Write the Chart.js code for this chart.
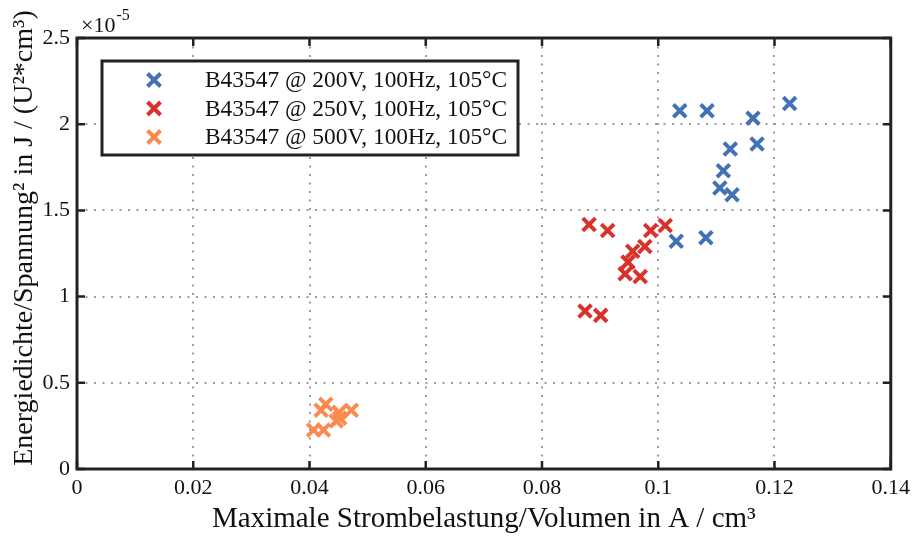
<!DOCTYPE html>
<html>
<head>
<meta charset="utf-8">
<script src="https://cdn.jsdelivr.net/npm/chart.js@4.4.1/dist/chart.umd.min.js"></script>
<style>
  html, body { margin: 0; padding: 0; background: #fff; }
  #wrap { width: 916px; height: 538px; }
</style>
</head>
<body>
<div id="wrap"><canvas id="chart"></canvas></div>
<script>
// Messreihen B43547 (y-Werte in Einheiten von 1e-5)
const seriesLabels = [
  'B43547 @ 200V, 100Hz, 105°C',
  'B43547 @ 250V, 100Hz, 105°C',
  'B43547 @ 500V, 100Hz, 105°C'
];
const seriesColors = ['#4371B6', '#D8322A', '#FA8A50'];

const x200 = [0.1037, 0.1084, 0.1163, 0.1226, 0.1124, 0.1170, 0.1112, 0.1106, 0.1127, 0.1031, 0.1082];
const y200 = [2.078, 2.078, 2.035, 2.120, 1.856, 1.885, 1.730, 1.630, 1.591, 1.321, 1.341];

const x250 = [0.0881, 0.0913, 0.0987, 0.1012, 0.0977, 0.0956, 0.0948, 0.0943, 0.0969, 0.0874, 0.0901];
const y250 = [1.418, 1.383, 1.383, 1.412, 1.291, 1.263, 1.200, 1.132, 1.117, 0.916, 0.891];

const x500 = [0.0428, 0.0420, 0.0451, 0.0472, 0.0452, 0.0446, 0.0407, 0.0424];
const y500 = [0.376, 0.341, 0.329, 0.341, 0.295, 0.278, 0.226, 0.226];

const xTicks = [0, 0.02, 0.04, 0.06, 0.08, 0.1, 0.12, 0.14];
const yTicks = [0, 0.5, 1, 1.5, 2, 2.5];
const yExponent = '-5';

const xTitle = 'Maximale Strombelastung/Volumen in A / cm³';
const yTitle = 'Energiedichte/Spannung² in J / (U²*cm³)';

const FONT = "'Liberation Serif', 'DejaVu Serif', serif";

function toPoints(xs, ys) {
  return xs.map((x, i) => ({ x: x, y: ys[i] }));
}

const datasets = [
  [x200, y200], [x250, y250], [x500, y500]
].map(([xs, ys], i) => ({
  label: seriesLabels[i],
  data: toPoints(xs, ys),
  pointStyle: 'crossRot',
  pointRadius: 9,
  pointBorderWidth: 4,
  borderColor: seriesColors[i],
  backgroundColor: seriesColors[i],
  showLine: false
}));

// Rahmen, nach innen zeigende Ticks, Exponent und y-Achsentitel
const framePlugin = {
  id: 'frame',
  afterDatasetsDraw(chart) {
    const { ctx, chartArea: a, scales } = chart;
    const len = 8;
    ctx.save();
    ctx.strokeStyle = '#222';
    ctx.lineWidth = 2.5;
    ctx.beginPath();
    scales.x.ticks.forEach(t => {
      const px = scales.x.getPixelForValue(t.value);
      ctx.moveTo(px, a.bottom); ctx.lineTo(px, a.bottom - len);
      ctx.moveTo(px, a.top); ctx.lineTo(px, a.top + len);
    });
    scales.y.ticks.forEach(t => {
      const py = scales.y.getPixelForValue(t.value);
      ctx.moveTo(a.left, py); ctx.lineTo(a.left + len, py);
      ctx.moveTo(a.right, py); ctx.lineTo(a.right - len, py);
    });
    ctx.stroke();
    ctx.lineWidth = 3;
    ctx.strokeRect(a.left, a.top, a.right - a.left, a.bottom - a.top);

    // ×10^-5 über der y-Achse
    ctx.fillStyle = '#111';
    ctx.textBaseline = 'alphabetic';
    ctx.textAlign = 'left';
    ctx.font = '22px ' + FONT;
    const base = '×10';
    ctx.fillText(base, a.left + 4, a.top - 6);
    const w = ctx.measureText(base).width;
    ctx.font = '16px ' + FONT;
    ctx.fillText(yExponent, a.left + 5 + w, a.top - 18);

    // y-Achsentitel, gedreht
    ctx.save();
    ctx.translate(32, 238);
    ctx.rotate(-Math.PI / 2);
    ctx.textAlign = 'center';
    ctx.font = '28px ' + FONT;
    ctx.fillText(yTitle, 0, 0);
    ctx.restore();
    ctx.restore();
  }
};

// Legende mit Rahmen oben links im Diagramm
const legendPlugin = {
  id: 'boxLegend',
  afterDraw(chart) {
    const { ctx } = chart;
    const box = { x: 102, y: 61, w: 416, h: 94 };
    const rowH = 28.5;
    ctx.save();
    ctx.fillStyle = '#fff';
    ctx.fillRect(box.x, box.y, box.w, box.h);
    ctx.strokeStyle = '#222';
    ctx.lineWidth = 3;
    ctx.strokeRect(box.x, box.y, box.w, box.h);
    ctx.font = '23.4px ' + FONT;
    ctx.textBaseline = 'middle';
    ctx.textAlign = 'left';
    chart.data.datasets.forEach((ds, i) => {
      const cy = box.y + 19 + i * rowH;
      const cx = box.x + 52;
      const r = 6.5;
      ctx.strokeStyle = ds.borderColor;
      ctx.lineWidth = 4;
      ctx.beginPath();
      ctx.moveTo(cx - r, cy - r); ctx.lineTo(cx + r, cy + r);
      ctx.moveTo(cx - r, cy + r); ctx.lineTo(cx + r, cy - r);
      ctx.stroke();
      ctx.fillStyle = '#111';
      ctx.fillText(ds.label, box.x + 103, cy + 1);
    });
    ctx.restore();
  }
};

new Chart(document.getElementById('chart'), {
  type: 'scatter',
  data: { datasets: datasets },
  options: {
    responsive: true,
    maintainAspectRatio: false,
    animation: false,
    layout: { padding: { top: 38, right: 24, left: 0, bottom: 0 } },
    plugins: {
      legend: { display: false },
      tooltip: { enabled: false }
    },
    scales: {
      x: {
        type: 'linear',
        min: 0,
        max: 0.14,
        afterBuildTicks: s => { s.ticks = xTicks.map(v => ({ value: v })); },
        afterFit: s => { s.height = 69; },
        ticks: {
          color: '#111',
          font: { family: FONT, size: 22 },
          padding: 6,
          maxRotation: 0,
          callback: v => String(v)
        },
        grid: { color: '#9c9c9c', lineWidth: 2, drawTicks: false },
        border: { display: false, dash: [2, 6.5] },
        title: {
          display: true,
          text: xTitle,
          color: '#111',
          font: { family: FONT, size: 29 },
          padding: { top: 0, bottom: 1 }
        }
      },
      y: {
        type: 'linear',
        min: 0,
        max: 2.5,
        afterBuildTicks: s => { s.ticks = yTicks.map(v => ({ value: v })); },
        afterFit: s => { s.width = 77; },
        ticks: {
          color: '#111',
          font: { family: FONT, size: 22 },
          padding: 7,
          callback: v => String(v)
        },
        grid: { color: '#9c9c9c', lineWidth: 2, drawTicks: false },
        border: { display: false, dash: [2, 6.5] },
        title: { display: false }
      }
    }
  },
  plugins: [framePlugin, legendPlugin]
});
</script>
</body>
</html>
